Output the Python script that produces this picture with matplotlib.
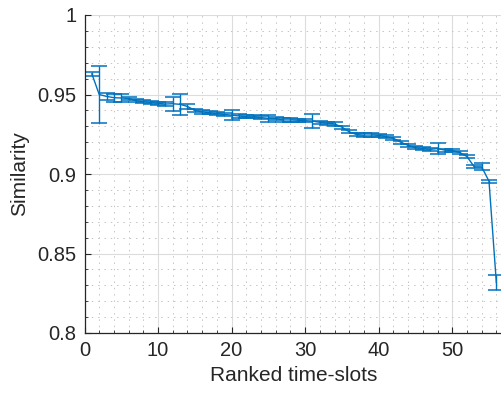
import numpy as np
import matplotlib
matplotlib.use("Agg")
import matplotlib.pyplot as plt
from matplotlib.ticker import MultipleLocator, FuncFormatter

x_label = "Ranked time-slots"
y_label = "Similarity"

slots = list(range(1, 57))
similarity = [0.963, 0.950, 0.9488, 0.948, 0.9478, 0.9475, 0.946, 0.9455, 0.945, 0.9445,
              0.944, 0.9442, 0.9438, 0.9425, 0.940, 0.939, 0.9385, 0.938, 0.9375, 0.937,
              0.9365, 0.936, 0.936, 0.9355, 0.935, 0.9348, 0.934, 0.934, 0.9338, 0.9335,
              0.9333, 0.9325, 0.932, 0.9315, 0.9295, 0.9265, 0.9248, 0.9245, 0.9245, 0.9243,
              0.9235, 0.9225, 0.920, 0.918, 0.9165, 0.916, 0.9155, 0.916, 0.915, 0.9148,
              0.9135, 0.911, 0.9045, 0.9045, 0.8955, 0.8317]
error = [0.0013, 0.018, 0.0023, 0.0025, 0.0025, 0.001, 0.001, 0.001, 0.001, 0.001,
         0.001, 0.0045, 0.0068, 0.0015, 0.001, 0.001, 0.001, 0.001, 0.001, 0.003,
         0.001, 0.001, 0.001, 0.001, 0.0023, 0.001, 0.001, 0.001, 0.001, 0.001,
         0.0044, 0.001, 0.001, 0.0013, 0.001, 0.001, 0.001, 0.001, 0.001, 0.001,
         0.001, 0.001, 0.001, 0.001, 0.001, 0.001, 0.001, 0.0035, 0.001, 0.001,
         0.001, 0.001, 0.001, 0.0022, 0.001, 0.0048]

plt.rcParams['font.family'] = ['Liberation Sans', 'DejaVu Sans']
dark = '#262626'

fig = plt.figure(figsize=(5.01, 3.95), dpi=100)
ax = fig.add_axes([84.5 / 501, 62 / 395, 419.2 / 501, 318 / 395])

ax.errorbar(slots, similarity, yerr=error, color='#0072BD', lw=1.0,
            elinewidth=1.0, capsize=6, capthick=1.1)

ax.set_xlim(0, 57)
ax.set_ylim(0.8, 1.0)
ax.xaxis.set_major_locator(MultipleLocator(10))
ax.xaxis.set_minor_locator(MultipleLocator(2))
ax.yaxis.set_major_locator(MultipleLocator(0.05))
ax.yaxis.set_minor_locator(MultipleLocator(0.01))
ax.yaxis.set_major_formatter(FuncFormatter(lambda v, p: f"{v:g}"))

ax.grid(which='major', color='#dcdcdc', lw=0.8, ls='-')
ax.grid(which='minor', color='#c4c4c4', lw=0.7, ls=(0, (1.5, 5)))
ax.set_axisbelow(True)

for side in ['top', 'right']:
    ax.spines[side].set_visible(False)
for side in ['left', 'bottom']:
    ax.spines[side].set_color(dark)
    ax.spines[side].set_linewidth(0.9)

ax.tick_params(which='major', direction='in', length=4, width=0.8, colors=dark,
               labelsize=14.5, pad=6)
ax.tick_params(which='minor', direction='in', length=2, width=0.6, colors=dark)

ax.set_xlabel(x_label, fontsize=15, color=dark, labelpad=4)
ax.set_ylabel(y_label, fontsize=15, color=dark, labelpad=6)

fig.savefig("out.png", dpi=100)
